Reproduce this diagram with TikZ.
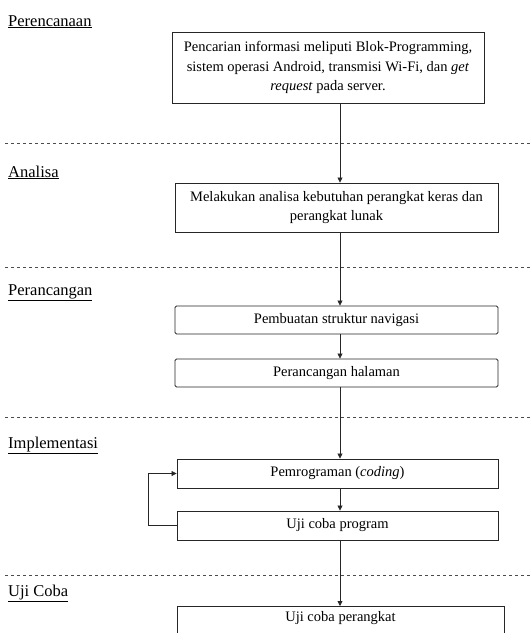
\documentclass[tikz,border=0pt]{standalone}
\usepackage{fontspec}
\setmainfont{Liberation Serif}
\usetikzlibrary{arrows.meta}
\begin{document}
\begin{tikzpicture}[x=1pt,y=-1pt,
  box/.style={draw=black!85, line width=0.9pt, inner sep=0pt, align=center,
    font=\fontsize{14.5}{19.5}\selectfont},
  rbox/.style={box, rounded corners=1.5pt},
  phase/.style={anchor=base west, inner sep=0pt, font=\fontsize{16.5}{18}\selectfont},
  sep/.style={draw=black!70, line width=0.6pt, dash pattern=on 3pt off 3pt},
  arr/.style={draw=black!85, line width=0.8pt, -{Triangle[length=5pt,width=5pt]}},
]
\useasboundingbox (0,0) rectangle (530,633);

% phase labels
\node[phase] (l1) at (8,26)  {\underline{Perencanaan}};
\node[phase] (l2) at (8,177) {\underline{Analisa}};
\node[phase] (l3) at (8,295) {\underline{Perancangan}};
\node[phase] (l4) at (8,448) {\underline{Implementasi}};
\node[phase] (l5) at (8,596) {\underline{Uji Coba}};

% separators
\draw[sep] (5,143) -- (530,143);
\draw[sep] (5,267) -- (530,267);
\draw[sep] (5,417) -- (530,417);
\draw[sep] (5,575) -- (530,575);

% boxes
\node[box, minimum width=312pt, minimum height=71pt] (b1) at (328,67.5)
  {Pencarian informasi meliputi Blok-Programming,\\
   sistem operasi Android, transmisi Wi-Fi, dan \textit{get}\\
   \textit{request} pada server.};
\node[box, minimum width=323pt, minimum height=49pt] (b2) at (336.5,207.5)
  {Melakukan analisa kebutuhan perangkat keras dan\\ perangkat lunak};
\node[rbox, minimum width=323pt, minimum height=28pt] (b3) at (336.5,320)
  {Pembuatan struktur navigasi};
\node[rbox, minimum width=323pt, minimum height=28pt] (b4) at (336.5,373)
  {Perancangan halaman};
\node[box, minimum width=321pt, minimum height=29pt] (b5) at (337.5,473.5)
  {Pemrograman (\textit{coding})};
\node[box, minimum width=321pt, minimum height=29pt] (b6) at (337.5,525.5)
  {Uji coba program};
\node[box, minimum width=327pt, minimum height=34pt, text height=10pt, text depth=14pt,
  anchor=north] (b7) at (340.5,606)
  {Uji coba perangkat};

% connectors
\coordinate (cx) at (340,0);
\coordinate (lp) at (148,0);
\draw[arr] (b1.south -| cx) -- (b2.north -| cx);
\draw[arr] (b2.south -| cx) -- (b3.north -| cx);
\draw[arr] (b3.south -| cx) -- (b4.north -| cx);
\draw[arr] (b4.south -| cx) -- (b5.north -| cx);
\draw[arr] (b5.south -| cx) -- (b6.north -| cx);
\draw[arr] (b6.south -| cx) -- (b7.north -| cx);
\draw[arr] (b6.west) -- (b6.west -| lp) -- (b5.west -| lp) -- (b5.west);
\end{tikzpicture}
\end{document}
